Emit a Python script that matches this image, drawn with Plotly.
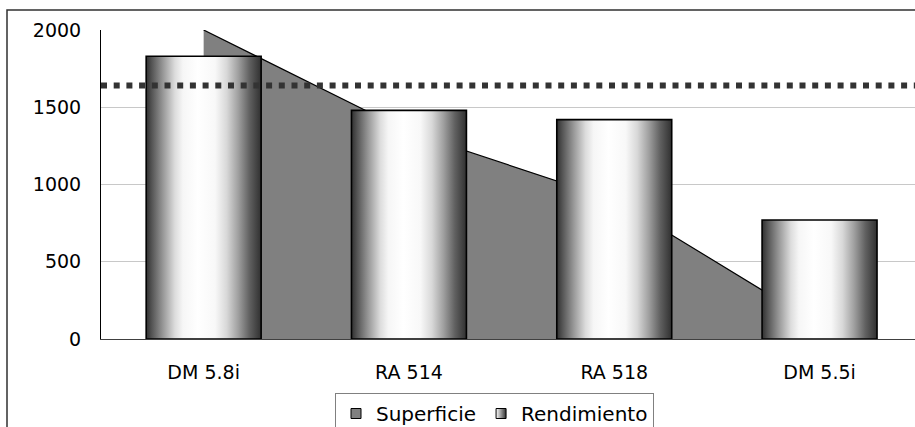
import plotly.graph_objects as go

# Cultivars on the category axis
categories = ["DM 5.8i", "RA 514", "RA 518", "DM 5.5i"]
# Sown area (drawn as a filled area behind the bars)
superficie = [2000, 1340, 900, 90]
# Yield per cultivar (drawn as shaded cylinders)
rendimiento = [1830, 1480, 1420, 770]
# Reference yield level
rendimiento_medio = 1640

y_ticks = [0, 500, 1000, 1500, 2000]

W, H = 915, 427
M_L, M_R, M_T, M_B = 101, 0, 30, 88
BAR_W = 0.56
FONT = "DejaVu Sans, Verdana, sans-serif"
FS = 19

cylinder = [
    [0.00, "#303030"], [0.05, "#555555"], [0.15, "#9a9a9a"], [0.25, "#dcdcdc"],
    [0.32, "#f6f6f6"], [0.45, "#ffffff"], [0.60, "#f8f8f8"], [0.70, "#d8d8d8"],
    [0.80, "#a0a0a0"], [0.90, "#606060"], [1.00, "#303030"],
]

xs = list(range(len(categories)))
fig = go.Figure()

# Area series
fig.add_trace(go.Scatter(
    x=xs, y=superficie, mode="lines", fill="tozeroy",
    fillcolor="#808080", line=dict(color="#000000", width=1.2),
    showlegend=False, hoverinfo="skip",
))

# Cylinder-shaded bars, one filled polygon per category
for i, v in enumerate(rendimiento):
    x0, x1 = i - BAR_W / 2, i + BAR_W / 2
    fig.add_trace(go.Scatter(
        x=[x0, x0, x1, x1, x0], y=[0, v, v, 0, 0],
        mode="lines", fill="toself",
        fillgradient=dict(type="horizontal", colorscale=cylinder, start=x0, stop=x1),
        line=dict(color="#000000", width=1.6),
        showlegend=False, hoverinfo="skip",
    ))

# Legend entries
fig.add_trace(go.Scatter(
    x=[None], y=[None], mode="markers", name="Superficie",
    marker=dict(symbol="square", size=10, color="#808080",
                line=dict(color="#000000", width=1)),
))
fig.add_trace(go.Scatter(
    x=[None], y=[None], mode="markers", name="Rendimiento",
    marker=dict(symbol="square", size=10, color="#ffffff",
                gradient=dict(type="horizontal", color="#303030"),
                line=dict(color="#000000", width=1)),
))

plot_w = W - M_L - M_R
plot_h = H - M_T - M_B
band = 205.3  # pixel width of one category band
x_span = plot_w / band

# Outer chart frame (left and top edges visible)
frame_x0 = (7 - M_L) / plot_w
frame_y1 = (H - M_B - 10) / plot_h

fig.update_layout(
    width=W, height=H,
    margin=dict(l=M_L, r=M_R, t=M_T, b=M_B),
    paper_bgcolor="#ffffff", plot_bgcolor="#ffffff",
    font=dict(family=FONT, size=FS, color="#000000"),
    xaxis=dict(
        range=[-0.5, -0.5 + x_span], tickvals=xs, ticktext=categories,
        showgrid=False, zeroline=False, showline=True,
        linecolor="#404040", linewidth=1, ticks="",
        ticklabelstandoff=16, tickfont=dict(size=FS),
    ),
    yaxis=dict(
        range=[0, 2000], tickvals=y_ticks,
        showgrid=True, gridcolor="#c8c8c8", gridwidth=1,
        zeroline=False, showline=True, linecolor="#000000", linewidth=1,
        ticks="", ticklabelstandoff=15, tickfont=dict(size=FS),
    ),
    legend=dict(
        orientation="h",
        xref="container", x=335 / W, xanchor="left",
        yref="container", y=1 - 393 / H, yanchor="top",
        bordercolor="#808080", borderwidth=1, bgcolor="#ffffff",
        font=dict(size=20), itemwidth=30, tracegroupgap=0,
    ),
    shapes=[
        dict(type="line", xref="paper", yref="y", x0=0, x1=1,
             y0=rendimiento_medio, y1=rendimiento_medio,
             line=dict(color="#333333", width=6, dash="6px,6.7px")),
        dict(type="rect", xref="paper", yref="paper",
             x0=frame_x0, x1=1.2, y0=-0.6, y1=frame_y1,
             line=dict(color="#303030", width=1.5), fillcolor="rgba(0,0,0,0)"),
    ],
)

fig.write_html("out.html")
